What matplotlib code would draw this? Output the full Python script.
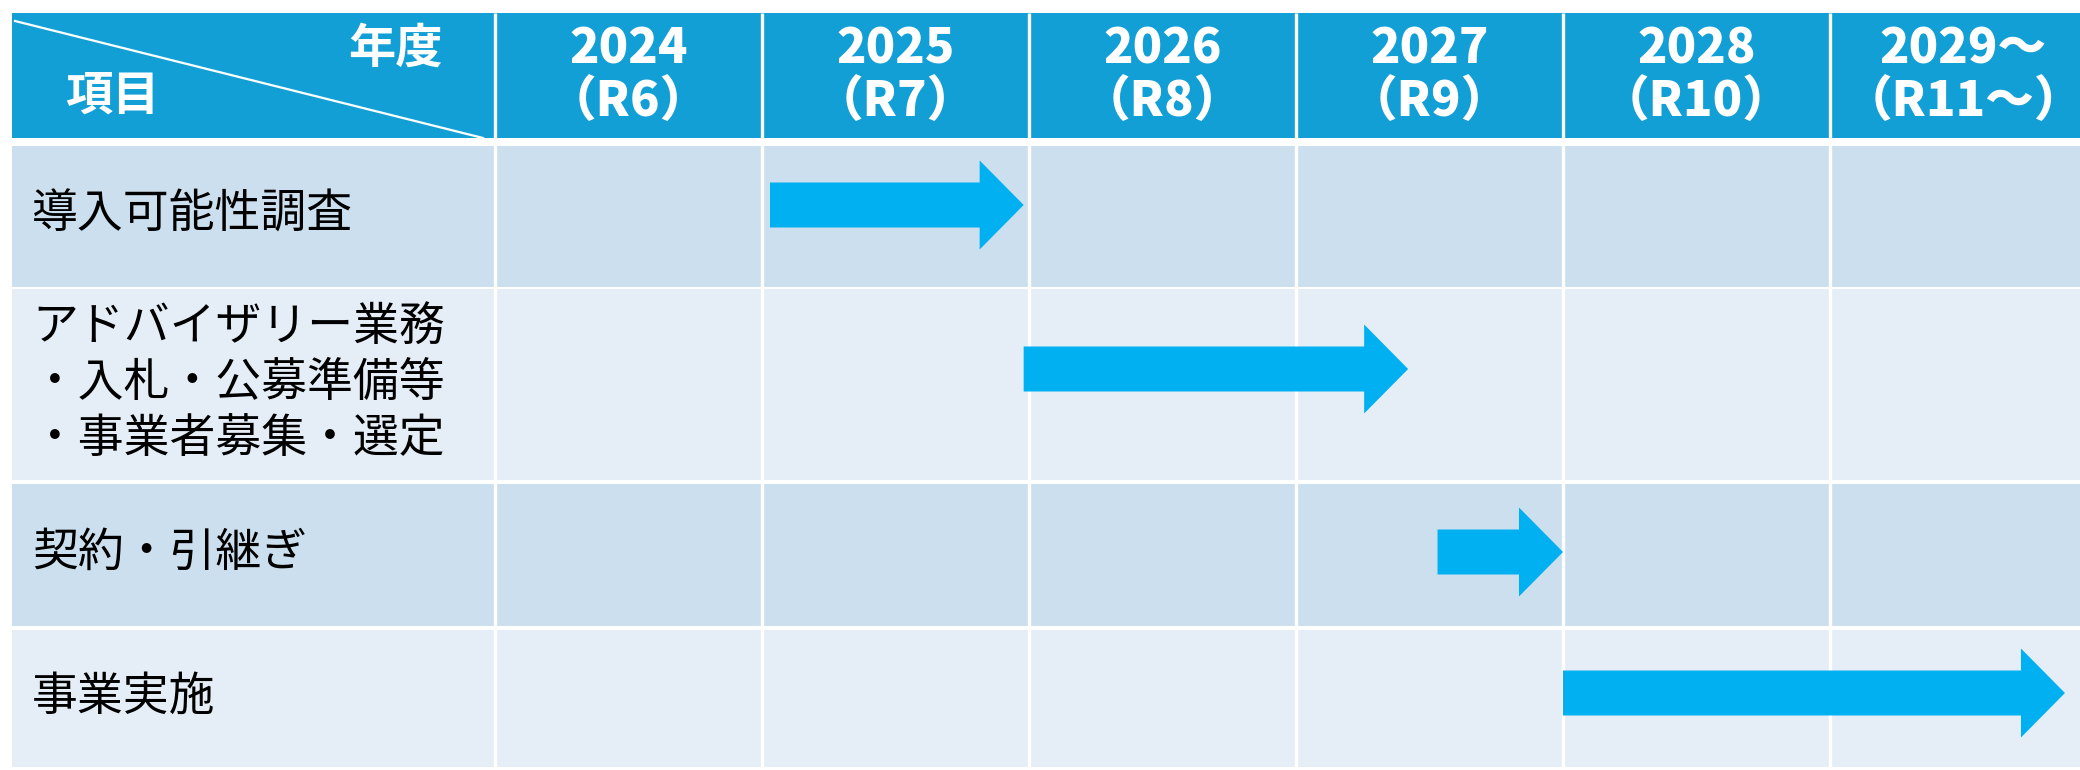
import matplotlib.pyplot as plt
from matplotlib.patches import Rectangle, FancyArrow

plt.rcParams['font.family'] = ['Noto Sans CJK JP', 'DejaVu Sans']

# ---------------- data ----------------
years = ["2024\n（R6）", "2025\n（R7）", "2026\n（R8）", "2027\n（R9）",
         "2028\n（R10）", "2029～\n（R11～）"]
tasks = ["導入可能性調査",
         "アドバイザリー業務\n・入札・公募準備等\n・事業者募集・選定",
         "契約・引継ぎ",
         "事業実施"]
# start / end of each bar in fiscal-year units (2024 column spans 2024.0-2025.0)
task_start = [2025.03, 2025.98, 2027.53, 2028.0]
task_end = [2025.98, 2027.42, 2028.0, 2029.88]

# ---------------- layout (pixels of a 2080x770 canvas) ----------------
W, H = 2080, 770
COL_PX = 267          # one year column
FIRST_PX = 495        # left edge of the 2024 column
TABLE_LEFT = 12
HEAD_TOP, HEAD_BOT = 13, 138
ROWS = [(146, 287), (289, 480), (484, 626), (630, 767)]
ARROW_Y = [205, 369, 552, 693]

HEAD_C = "#129fd6"
ROW_C = ["#ccdfee", "#e5eef7"]
ARROW_C = "#00b0f0"


def px(p):
    return years_x0 + (p - FIRST_PX) / COL_PX


years_x0 = 2024
fig = plt.figure(figsize=(W / 100, H / 100), dpi=100)
ax = fig.add_axes([0, 0, 1, 1])
ax.set_xlim(px(0), px(W))
ax.set_ylim(H, 0)
ax.axis("off")

right = px(W)
left = px(TABLE_LEFT)

# header band
ax.add_patch(Rectangle((left, HEAD_TOP), right - left, HEAD_BOT - HEAD_TOP,
                       color=HEAD_C, lw=0, zorder=1))
ax.plot([px(15), px(483)], [21, 138], color="white", lw=1.6, zorder=3)
ax.text(px(396), 49, "年度", color="white", fontsize=34, fontweight="bold",
        ha="center", va="center", zorder=4)
ax.text(px(112), 96, "項目", color="white", fontsize=34, fontweight="bold",
        ha="center", va="center", zorder=4)

for i, lab in enumerate(years):
    ax.text(years_x0 + i + 0.5, (HEAD_TOP + HEAD_BOT) / 2, lab,
            color="white", fontsize=35, fontweight="heavy",
            ha="center", va="center", linespacing=1.12, zorder=4)

# task rows
for i, (top, bot) in enumerate(ROWS):
    ax.add_patch(Rectangle((left, top), right - left, bot - top,
                           color=ROW_C[i % 2], lw=0, zorder=1))
    ax.text(px(32), (top + bot) / 2 - 2, tasks[i], fontsize=33,
            color="black", ha="left", va="center", linespacing=1.2, zorder=4)

# white column separators
for k in range(len(years)):
    ax.plot([years_x0 + k, years_x0 + k], [HEAD_TOP, ROWS[-1][1]],
            color="white", lw=2.4, solid_capstyle="butt", zorder=2)

# arrows
for s, e, y in zip(task_start, task_end, ARROW_Y):
    ax.add_patch(FancyArrow(s, y, e - s, 0, width=45, head_width=89,
                            head_length=44 / COL_PX, length_includes_head=True,
                            color=ARROW_C, lw=0, zorder=5))

fig.savefig("out.png", dpi=100)
